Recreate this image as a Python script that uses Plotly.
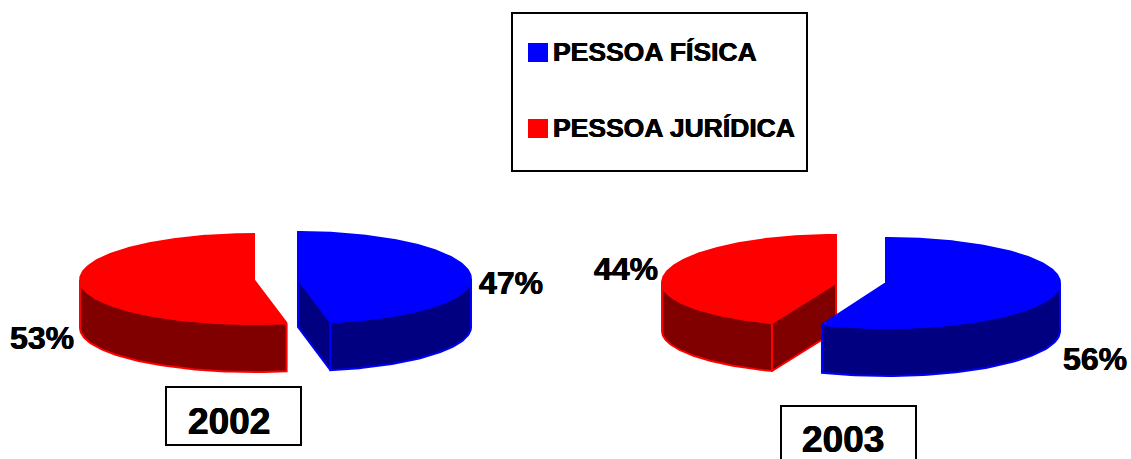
import numpy as np
import plotly.graph_objects as go

# ---- data ----
categories = ["PESSOA FÍSICA", "PESSOA JURÍDICA"]
years = ["2002", "2003"]
values_2002 = [47, 53]
values_2003 = [56, 44]

# ---- styling / layout (pixel-valued axes) ----
W, H = 1131, 459
top_colors = ["#0000FF", "#FF0000"]
wall_colors = ["#000080", "#800000"]
DEPTH = 48
# one geometry per slice: cx, cy, rx, ry_back, ry_front
geom_2002 = [(298, 279, 173, 47, 44), (254, 280, 174, 46, 44)]
geom_2003 = [(886, 283, 174, 45, 45), (836, 283, 174, 48, 43)]
label_pos_2002 = [(511, 283), (42, 338)]
label_pos_2003 = [(1095, 359), (626, 269)]

fig = go.Figure()


def ell(g, t):
    cx, cy, rx, rb, rf = g
    t = np.asarray(t, float)
    c = np.cos(t)
    return cx + rx * np.sin(t), cy - np.where(c > 0, rb, rf) * c


def poly(x, y, fill, line, name):
    fig.add_trace(go.Scatter(
        x=list(x) + [x[0]], y=list(y) + [y[0]], mode="lines", fill="toself",
        fillcolor=fill, line=dict(color=line, width=2),
        hoverinfo="skip", showlegend=False, name=name))


def slice3d(g, t0, t1, i, name):
    top, wall = top_colors[i], wall_colors[i]
    cx, cy = g[0], g[1]
    # visible cut faces (normal pointing towards the viewer)
    for t, n in ((t0, t0 - np.pi / 2), (t1, t1 + np.pi / 2)):
        if np.cos(n) < -1e-6:
            ex, ey = ell(g, t)
            poly([cx, float(ex), float(ex), cx],
                 [cy, float(ey), float(ey) + DEPTH, cy + DEPTH], wall, top, name)
    # outer wall (front half of the ellipse only)
    a = max(t0, np.pi / 2)
    b = min(t1, 3 * np.pi / 2)
    if b > a:
        ts = np.linspace(a, b, 80)
        ex, ey = ell(g, ts)
        poly(np.r_[ex, ex[::-1]], np.r_[ey, ey[::-1] + DEPTH], wall, top, name)
    # top surface
    ts = np.linspace(t0, t1, 200)
    ex, ey = ell(g, ts)
    poly(np.r_[cx, ex], np.r_[cy, ey], top, top, name)


def pie(values, geoms, order):
    total = sum(values)
    end = 2 * np.pi * values[0] / total
    spans = [(0.0, end), (end, 2 * np.pi)]
    for i in order:
        slice3d(geoms[i], spans[i][0], spans[i][1], i, categories[i])


pie(values_2002, geom_2002, [0, 1])
pie(values_2003, geom_2003, [1, 0])

ann = []
FONT = "Liberation Sans, Arial, sans-serif"
HEAVY = "0.4px 0 0 #000, -0.4px 0 0 #000"


def text(x, y, s, size, anchor="center"):
    ann.append(dict(x=x, y=y, text=f"<b>{s}</b>", showarrow=False, xanchor=anchor,
                    yanchor="middle", xref="x", yref="y",
                    font=dict(family=FONT, size=size, color="#000000", shadow=HEAVY)))


for v, p in zip(values_2002, label_pos_2002):
    text(p[0], p[1], f"{v}%", 32)
for v, p in zip(values_2003, label_pos_2003):
    text(p[0], p[1], f"{v}%", 32)

# year boxes
shapes = [
    dict(type="rect", x0=166, x1=301, y0=387, y1=445, line=dict(color="#000", width=2), fillcolor="#fff", layer="above"),
    dict(type="rect", x0=781, x1=916, y0=406, y1=470, line=dict(color="#000", width=2), fillcolor="#fff", layer="above"),
    dict(type="rect", x0=512, x1=807, y0=13, y1=171, line=dict(color="#000", width=2), fillcolor="#fff", layer="above"),
    dict(type="rect", x0=528, x1=548, y0=43, y1=62, line=dict(width=0), fillcolor=top_colors[0], layer="above"),
    dict(type="rect", x0=528, x1=548, y0=119, y1=138, line=dict(width=0), fillcolor=top_colors[1], layer="above"),
]
text(229, 421, years[0], 37)
text(843, 439, years[1], 37)
text(551, 52, categories[0], 26.5, "left")
text(551, 128, categories[1], 26.5, "left")

fig.update_layout(
    width=W, height=H, margin=dict(l=0, r=0, t=0, b=0),
    paper_bgcolor="#fff", plot_bgcolor="#fff", showlegend=False,
    xaxis=dict(range=[0, W], visible=False, fixedrange=True),
    yaxis=dict(range=[H, 0], visible=False, fixedrange=True),
    shapes=shapes, annotations=ann,
)
fig.write_html(
    "out.html", config={"displayModeBar": False},
    post_script="document.body.style.margin='0';document.body.style.overflow='hidden';",
)
